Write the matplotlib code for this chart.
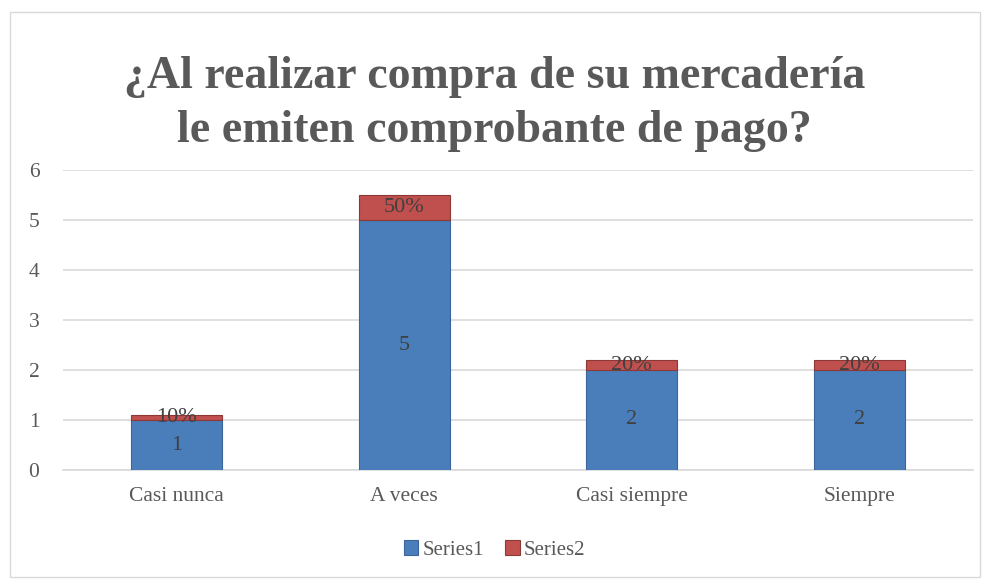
import numpy as np
import matplotlib.pyplot as plt
from matplotlib.patches import Rectangle

categories = ["Casi nunca", "A veces", "Casi siempre", "Siempre"]
series1 = [1, 5, 2, 2]
series2 = [0.1, 0.5, 0.2, 0.2]
series2_labels = ["10%", "50%", "20%", "20%"]

plt.rcParams['font.family'] = ['Liberation Serif', 'DejaVu Serif']
txt = '#595959'

fig = plt.figure(figsize=(9.89, 5.82), dpi=100)
ax = fig.add_axes([63/989, 1 - 470/582, (973-63)/989, 300/582])

x = np.arange(len(categories))
b1 = ax.bar(x, series1, width=0.4, color='#4A7EBB', edgecolor='#3A659A',
            linewidth=0.8, label='Series1', zorder=3)
b2 = ax.bar(x, series2, width=0.4, bottom=series1, color='#C0504D',
            edgecolor='#8C3836', linewidth=0.8, label='Series2', zorder=3)

for i in range(len(categories)):
    ax.text(x[i], series1[i] / 2, str(series1[i]), ha='center', va='center',
            fontsize=16, color='#404040', zorder=4)
    ax.text(x[i], series1[i] + series2[i] / 2, series2_labels[i], ha='center',
            va='center', fontsize=16, color='#404040', zorder=4)

ax.set_ylim(0, 6)
ax.set_xlim(-0.5, 3.5)
ax.set_yticks(range(0, 7))
ax.set_xticks(x)
ax.set_xticklabels(categories)
ax.yaxis.grid(True, color='#D9D9D9', linewidth=1.2, zorder=0)
ax.set_axisbelow(True)
for s in ['top', 'right', 'left']:
    ax.spines[s].set_visible(False)
ax.spines['bottom'].set_color('#D9D9D9')
ax.spines['bottom'].set_linewidth(1.2)
ax.tick_params(axis='both', length=0, labelsize=15.5, colors=txt, pad=12)
ax.tick_params(axis='y', pad=17)

fig.text(0.5, 1 - 104/582, "¿Al realizar compra de su mercadería\nle emiten comprobante de pago?",
         ha='center', va='center', fontsize=33, fontweight='bold', color=txt,
         linespacing=1.4)

fig.legend(handles=[b1, b2], labels=['Series1', 'Series2'], loc='center',
           bbox_to_anchor=(0.5, 1 - 550/582), ncol=2, frameon=False,
           fontsize=15, labelcolor=txt, handlelength=0.7, handleheight=0.7,
           handletextpad=0.2, columnspacing=1.0)

fig.patches.append(Rectangle((10/989, 1 - 577/582), 970/989, 565/582,
                             transform=fig.transFigure, fill=False,
                             edgecolor='#D9D9D9', linewidth=1))

fig.savefig('out.png', dpi=100)
